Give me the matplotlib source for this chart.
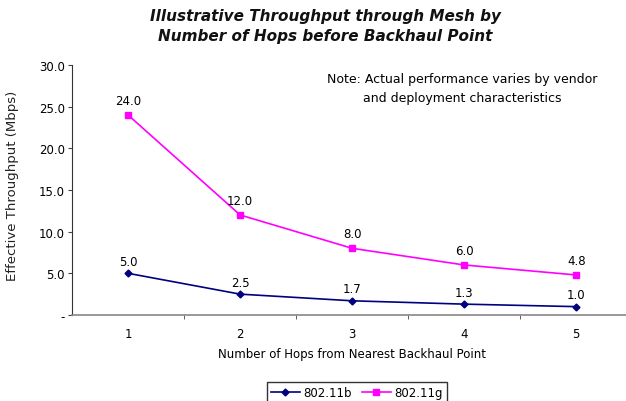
import matplotlib
matplotlib.use("Agg")
import matplotlib.pyplot as plt
from matplotlib.ticker import FixedLocator

plt.rcParams["font.family"] = ["DejaVu Sans"]

hops = [1, 2, 3, 4, 5]
b_vals = [5.0, 2.5, 1.7, 1.3, 1.0]
g_vals = [24.0, 12.0, 8.0, 6.0, 4.8]
y_ticks = [0, 5, 10, 15, 20, 25, 30]
y_labels = ["-", "5.0", "10.0", "15.0", "20.0", "25.0", "30.0"]

fig = plt.figure(figsize=(6.26, 4.02), dpi=100)
ax = fig.add_axes([0.115, 0.214, 0.895, 0.622])

ax.plot(hops, b_vals, color="#000080", marker="D", markersize=3.5, lw=1.2,
        label="802.11b")
ax.plot(hops, g_vals, color="#ff00ff", marker="s", markersize=4.5, lw=1.2,
        label="802.11g")

for x, v in zip(hops, b_vals):
    ax.annotate(f"{v:.1f}", (x, v), xytext=(0, 4), textcoords="offset points",
                ha="center", va="bottom", fontsize=8.5)
for x, v in zip(hops, g_vals):
    ax.annotate(f"{v:.1f}", (x, v), xytext=(0, 6), textcoords="offset points",
                ha="center", va="bottom", fontsize=8.5)

ax.set_xlim(0.5, 5.5)
ax.set_ylim(0, 30)
ax.set_xticks(hops)
ax.set_xticklabels([str(h) for h in hops], fontsize=8.5)
ax.xaxis.set_minor_locator(FixedLocator([1.5, 2.5, 3.5, 4.5]))
ax.tick_params(axis="x", which="major", length=0, pad=9)
ax.tick_params(axis="x", which="minor", length=3, direction="out", color="#444444")
ax.set_yticks(y_ticks)
ax.set_yticklabels(y_labels, fontsize=8.5)
ax.tick_params(axis="y", length=3, direction="out", color="#444444", pad=2)

for s in ["top", "right"]:
    ax.spines[s].set_visible(False)
ax.spines["left"].set_color("#333333")
ax.spines["bottom"].set_color("#888888")
ax.spines["bottom"].set_linewidth(1.2)

ax.set_xlabel("Number of Hops from Nearest Backhaul Point", fontsize=8.5, labelpad=5)
ax.set_ylabel("Effective Throughput (Mbps)", fontsize=9.5, labelpad=2, color="#222222")
ax.yaxis.set_label_coords(-0.095, 0.52)

fig.text(0.52, 0.978, "Illustrative Throughput through Mesh by\nNumber of Hops before Backhaul Point",
         ha="center", va="top", fontsize=11, fontweight="bold", fontstyle="italic",
         linespacing=1.45, color="#111111")

ax.text(0.697, 0.972, "Note: Actual performance varies by vendor\nand deployment characteristics",
        transform=ax.transAxes, ha="center", va="top", fontsize=9, linespacing=1.65)

leg = fig.legend(loc="center", bbox_to_anchor=(0.57, 0.022), ncol=2, fontsize=8.5,
                 frameon=True, fancybox=False, edgecolor="black", handlelength=2.5,
                 columnspacing=0.8, handletextpad=0.3, borderpad=0.3)
leg.get_frame().set_linewidth(1.0)

fig.savefig("out.png", dpi=100)
